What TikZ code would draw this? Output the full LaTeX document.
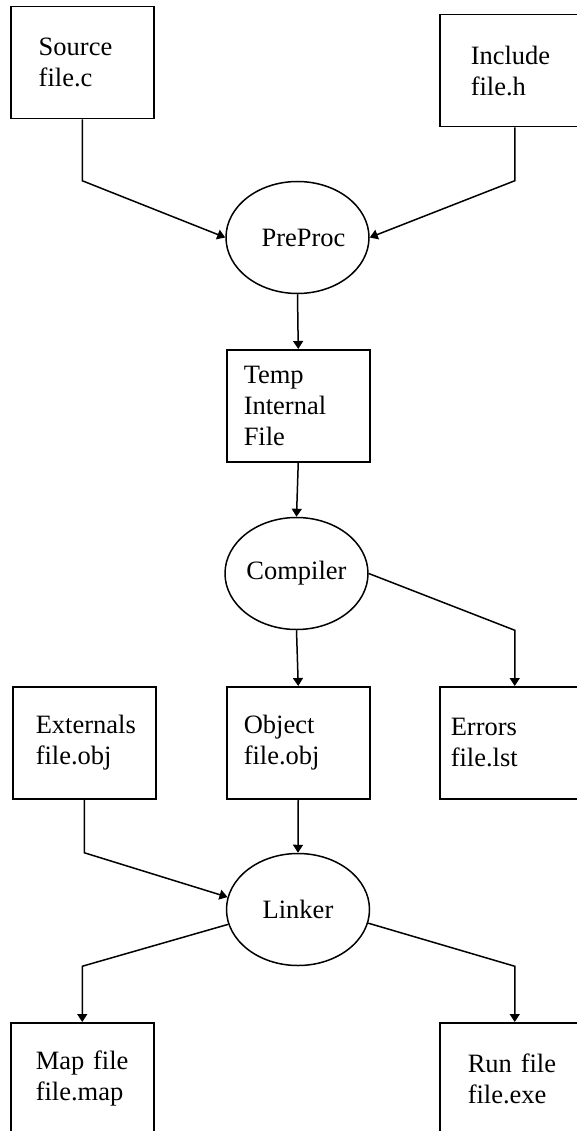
\documentclass[tikz,border=0pt]{standalone}
\usepackage{fontspec}
\setmainfont{Liberation Serif}
\usetikzlibrary{shapes.geometric,arrows.meta}

\tikzset{
    filebox/.style={draw, line width=1.5pt, anchor=north west, minimum height=112pt,
        inner ysep=0pt, inner xsep=0pt, text width=143pt, align=left,
        execute at begin node={\leftskip=#1\relax}},
    procnode/.style={draw, ellipse, line width=1.5pt, minimum width=143pt,
        minimum height=112pt, inner sep=0pt},
    flow/.style={line width=1.5pt, -{Triangle[width=10pt,length=8pt]}}
}

\begin{document}
\begin{tikzpicture}[x=1pt, y=-1pt, font=\fontsize{26.5}{31}\selectfont]

    \clip (0,0) rectangle (577,1131);

    % input files
    \node[filebox=28pt] (src) at (10,6) {Source\\file.c};
    \node[filebox=31pt, text width=150pt] (inc) at (439,14) {Include\\file.h};

    \node[procnode] (pre) at (297.5,237.5) {\hspace*{12pt}PreProc};
    \node[filebox=17pt] (tmp) at (226,349) {Temp\\Internal\\File};
    \node[procnode] (cmp) at (296.5,573.5) {Compiler};

    % compiler output
    \node[filebox=23pt] (ext) at (12,686)  {Externals\\file.obj};
    \node[filebox=17pt] (obj) at (226,686) {Object\\file.obj};
    \node[filebox=11pt, text width=150pt] (err) at (439,686) {Errors\\file.lst};

    \node[procnode] (lnk) at (298,909.5) {Linker};

    % linker output
    \node[filebox=25pt] (map) at (10,1022) {Map file\\file.map};
    \node[filebox=28pt, text width=150pt] (run) at (439,1022) {Run file\\file.exe};

    \draw[flow] (src.south) -- (src.south |- pre.north) -- (pre.west);
    \draw[flow] (inc.south) -- (inc.south |- pre.north) -- (pre.east);
    \draw[flow] (pre.south) -- (tmp.north);
    \draw[flow] (tmp.south) -- (cmp.north);
    \draw[flow] (cmp.south) -- (obj.north);
    \draw[flow] (cmp.east) -- (err.north |- cmp.south) -- (err.north);
    \draw[flow] (obj.south) -- (lnk.north);
    \draw[flow] (ext.south) -- (ext.south |- lnk.north) -- (lnk.170);
    \draw[flow] (lnk.192) -- (map.north |- lnk.south) -- (map.north);
    \draw[flow] (lnk.-11) -- (run.north |- lnk.south) -- (run.north);

\end{tikzpicture}
\end{document}
